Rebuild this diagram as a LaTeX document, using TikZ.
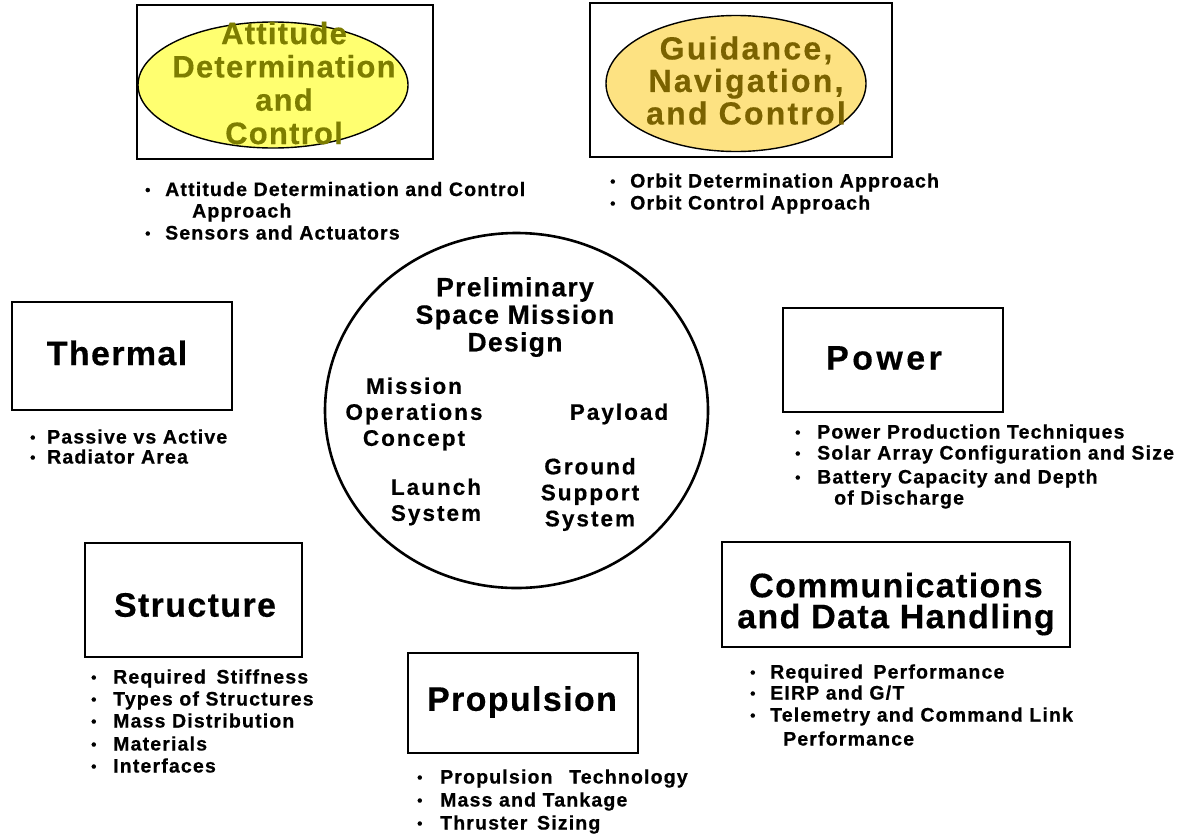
\documentclass[tikz,border=0pt]{standalone}
\usepackage{fontspec}
\setmainfont{Liberation Sans}
\newfontfamily\bulfont{Liberation Sans}[LetterSpace=6, FakeBold=0.6]
\newfontfamily\ttlfont{Liberation Sans}[LetterSpace=4, FakeBold=0.4]
\newfontfamily\pwrfont{Liberation Sans}[LetterSpace=10, FakeBold=0.4]
\newfontfamily\adcfont{Liberation Sans}[LetterSpace=4, FakeBold=0.4]
\newfontfamily\gncfont{Liberation Sans}[LetterSpace=7, FakeBold=0.4]
\newfontfamily\bigcfont{Liberation Sans}[LetterSpace=5, FakeBold=0.5]
\newfontfamily\smcfont{Liberation Sans}[LetterSpace=9, FakeBold=0.5]
\usetikzlibrary{shapes.geometric}
\definecolor{adcfill}{RGB}{255,255,112}
\definecolor{adctext}{RGB}{125,125,0}
\definecolor{gncfill}{RGB}{253,226,130}
\definecolor{gnctext}{RGB}{122,98,0}
\newcommand\bul[1]{\llap{\makebox[#1pt][l]{\raisebox{1pt}{\fontsize{15}{15}\selectfont •}}}}
\begin{document}
\begin{tikzpicture}[x=1pt,y=-1pt,
  box/.style={draw, line width=2.6pt, inner sep=0pt},
  ell/.style={ellipse, draw, line width=1.4pt, inner sep=0pt},
  ttl/.style={font=\ttlfont\bfseries\fontsize{34}{31}\selectfont, inner sep=0pt, align=center},
  adctxt/.style={font=\adcfont\bfseries\fontsize{31}{33.3}\selectfont, text=adctext, inner sep=0pt, align=center},
  gnctxt/.style={font=\gncfont\bfseries\fontsize{32}{32.5}\selectfont, text=gnctext, inner sep=0pt, align=center},
  bigc/.style={font=\bigcfont\bfseries\fontsize{26.5}{27.5}\selectfont, inner sep=0pt, align=center},
  smc/.style={font=\smcfont\bfseries\fontsize{22.5}{26}\selectfont, inner sep=0pt, align=center},
  bt/.style={font=\bulfont\bfseries\fontsize{19.5}{22}\selectfont, inner sep=0pt, anchor=base west},
]
\useasboundingbox (0,0) rectangle (1185,833);
\fill[white] (0,0) rectangle (1185,833);

% Attitude Determination and Control
\node[box, minimum width=296pt, minimum height=154pt] (adcbox) at (285,82) {};
\node[ell, fill=adcfill, minimum width=270pt, minimum height=126pt] (adcell) at (273,85) {};
\node[adctxt] (adctitle) at (284,83) {Attitude\\Determination\\and\\Control};
\node[bt] (adc1) at (165,196) {\bul{20}Attitude Determination and Control};
\node[bt] (adc2) at (192,217.5) {Approach};
\node[bt] (adc3) at (165,239.5) {\bul{20}Sensors and Actuators};

% Guidance, Navigation, and Control
\node[box, minimum width=302pt, minimum height=154pt] (gncbox) at (741,80) {};
\node[ell, fill=gncfill, minimum width=260pt, minimum height=136pt] (gncell) at (736,83.5) {};
\node[gnctxt] (gnctitle) at (746,80.5) {Guidance,\\Navigation,\\and Control};
\node[bt] (gnc1) at (630,187.5) {\bul{20}Orbit Determination Approach};
\node[bt] (gnc2) at (630,209.5) {\bul{20}Orbit Control Approach};

% Thermal
\node[box, minimum width=220pt, minimum height=108pt] (thbox) at (122,356) {};
\node[ttl] (thtitle) at (117,353) {Thermal};
\node[bt] (th1) at (47,443.5) {\bul{17}Passive vs Active};
\node[bt] (th2) at (47,463.5) {\bul{17}Radiator Area};

% Power
\node[box, minimum width=220pt, minimum height=104pt] (pwbox) at (893,360) {};
\node[ttl, font=\pwrfont\bfseries\fontsize{34}{31}\selectfont] (pwtitle) at (884,358) {Power};
\node[bt] (pw1) at (817,438.5) {\bul{22}Power Production Techniques};
\node[bt] (pw2) at (817,459.5) {\bul{22}Solar Array Configuration and Size};
\node[bt] (pw3) at (817,483.5) {\bul{22}Battery Capacity and Depth};
\node[bt] (pw4) at (834,504.5) {of Discharge};

% Central mission design
\node[ellipse, draw, line width=2.6pt, inner sep=0pt, minimum width=383pt, minimum height=355pt] (psmd) at (516.5,410.5) {};
\node[bigc] (psmdtitle) at (515,317) {Preliminary\\Space Mission\\Design};
\node[smc] (moc) at (414,414) {Mission\\Operations\\Concept};
\node[smc] (payload) at (619,414) {Payload};
\node[smc] (launch) at (436,502) {Launch\\System};
\node[smc] (gss) at (590,494.5) {Ground\\Support\\System};

% Structure
\node[box, minimum width=217pt, minimum height=114pt] (stbox) at (193.5,600) {};
\node[ttl] (sttitle) at (195,605) {Structure};
\node[bt] (st1) at (113,683.5) {\bul{22}Required\hspace{4pt} Stiffness};
\node[bt] (st2) at (113,705.5) {\bul{22}Types of Structures};
\node[bt] (st3) at (113,727.5) {\bul{22}Mass Distribution};
\node[bt] (st4) at (113,750.5) {\bul{22}Materials};
\node[bt] (st5) at (113,772.5) {\bul{22}Interfaces};

% Propulsion
\node[box, minimum width=230pt, minimum height=100pt] (prbox) at (523,703) {};
\node[ttl] (prtitle) at (522,702) {Propulsion};
\node[bt] (pr1) at (440,783.5) {\bul{23}Propulsion\hspace{10pt} Technology};
\node[bt] (pr2) at (440,806.5) {\bul{23}Mass and Tankage};
\node[bt] (pr3) at (440,829.5) {\bul{23}Thruster\hspace{3pt} Sizing};

% Communications and Data Handling
\node[box, minimum width=348pt, minimum height=105pt] (cdbox) at (896,594.5) {};
\node[ttl] (cdtitle) at (896,604) {Communications\\and Data Handling};
\node[bt] (cd1) at (770,678.5) {\bul{20}Required\hspace{4pt} Performance};
\node[bt] (cd2) at (770,699.5) {\bul{20}EIRP and G/T};
\node[bt] (cd3) at (770,721.5) {\bul{20}Telemetry and Command Link};
\node[bt] (cd4) at (783,745.5) {Performance};
\end{tikzpicture}
\end{document}
